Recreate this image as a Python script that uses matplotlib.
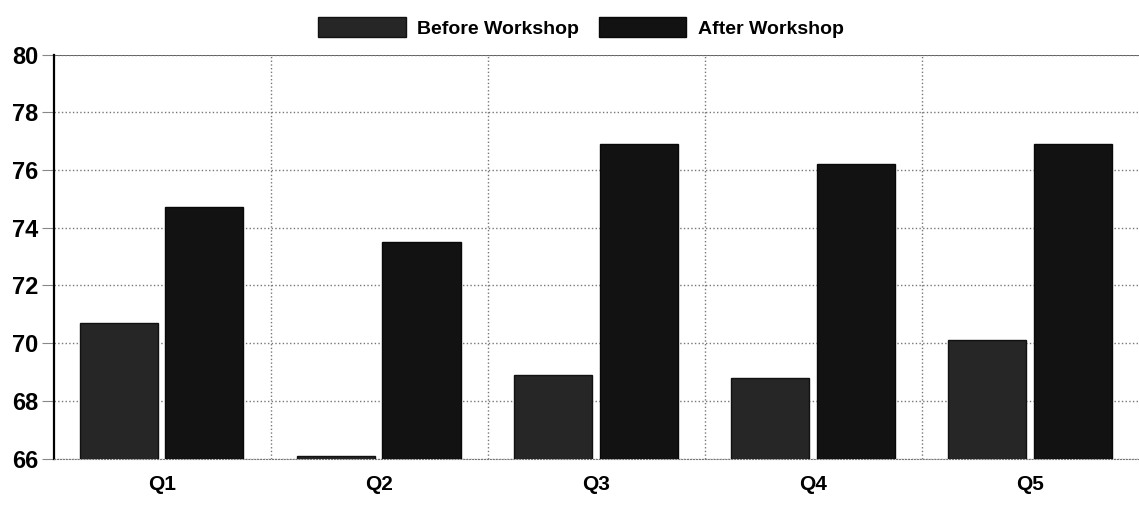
import numpy as np
from matplotlib import pyplot as plt

plt.rcParams['font.family'] = ['Liberation Sans', 'DejaVu Sans']

questions = ['Q1', 'Q2', 'Q3', 'Q4', 'Q5']
before_workshop = [70.7, 66.1, 68.9, 68.8, 70.1]
after_workshop = [74.7, 73.5, 76.9, 76.2, 76.9]
y_ticks = [66, 68, 70, 72, 74, 76, 78, 80]

fig = plt.figure(figsize=(11.39, 5.05), dpi=100)
ax = fig.add_axes([0.047, 0.092, 0.953, 0.80])

x = np.arange(len(questions))
width = 0.36
ax.bar(x - width / 2 - 0.02, before_workshop, width, color='#262626', edgecolor='#111111',
       label='Before Workshop', zorder=3)
ax.bar(x + width / 2 + 0.015, after_workshop, width, color='#121212', edgecolor='#080808',
       label='After Workshop', zorder=3)

ax.set_ylim(66, 80)
ax.set_xlim(-0.5, len(questions) - 0.5)
ax.set_yticks(y_ticks)
ax.set_yticklabels([str(t) for t in y_ticks], fontsize=17, fontweight='bold')
ax.set_xticks(x)
ax.set_xticklabels(questions, fontsize=15, fontweight='bold')
ax.tick_params(axis='x', length=0, pad=12)
ax.tick_params(axis='y', length=9, color='#888888', pad=2)

# dotted grid: horizontal at ticks, vertical between groups
ax.grid(axis='y', linestyle=':', color='#777777', linewidth=1.0, zorder=0)
for b in np.arange(0.5, len(questions) - 0.5, 1.0):
    ax.axvline(b, linestyle=':', color='#777777', linewidth=1.0, zorder=0)
ax.axhline(80, color='#444444', linewidth=1.2, zorder=1)

ax.spines['top'].set_visible(False)
ax.spines['right'].set_visible(False)
ax.spines['bottom'].set_linestyle(':')
ax.spines['bottom'].set_color('#777777')
ax.spines['left'].set_color('black')
ax.spines['left'].set_linewidth(1.6)

fig.legend(loc='upper center', bbox_to_anchor=(0.51, 1.0), ncol=2, frameon=False,
           prop={'size': 14, 'weight': 'bold'}, handlelength=4.5, handleheight=1.2,
           columnspacing=1.0, handletextpad=0.6)

fig.savefig('out.png', dpi=100)
